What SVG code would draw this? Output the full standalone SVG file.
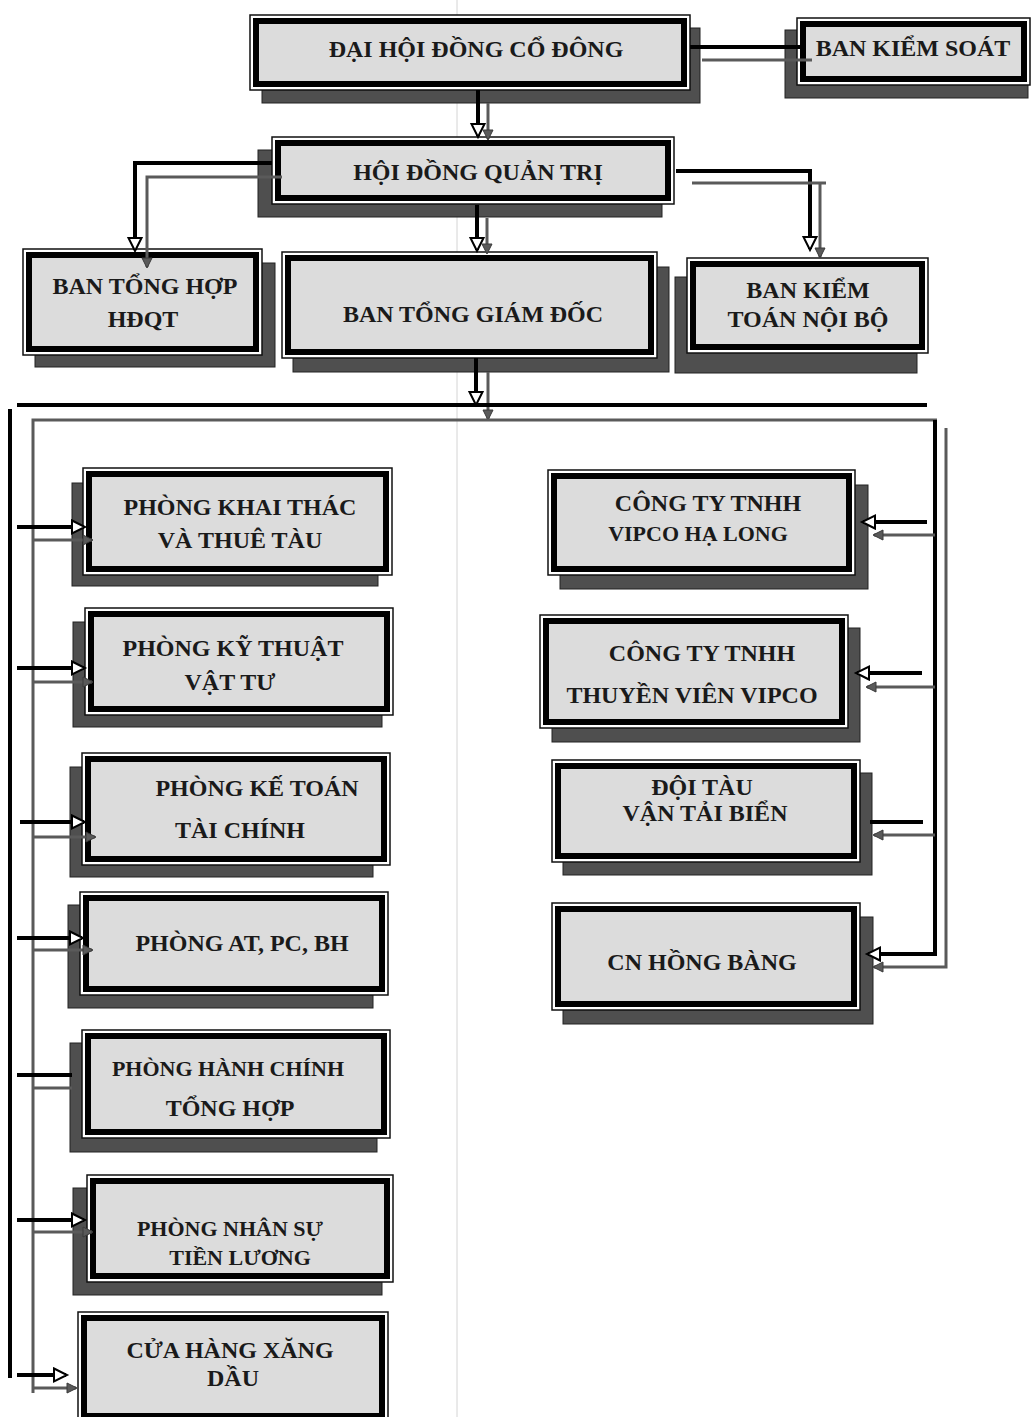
<svg xmlns="http://www.w3.org/2000/svg" width="1033" height="1417" viewBox="0 0 1033 1417">
<style>
.sh{fill:#4f4f4f;stroke:#222;stroke-width:1}
.fo{fill:#fff;stroke:#111;stroke-width:1.5}
.fi{fill:#dcdcdc;stroke:#000;stroke-width:6}
.t{font-family:"Liberation Serif","Times New Roman",serif;font-weight:bold;font-size:24px;fill:#1a1a1a;text-anchor:middle}
.s{font-size:22px}
.bk{fill:none;stroke:#000;stroke-width:4}
.gr{fill:none;stroke:#5a5a5a;stroke-width:3}
</style>
<defs>
<marker id="ab" markerUnits="userSpaceOnUse" markerWidth="18" markerHeight="18" refX="13" refY="8" orient="auto">
<path d="M1,1.5 L14,8 L1,14.5 Z" fill="#fff" stroke="#000" stroke-width="2"/>
</marker>
<marker id="ag" markerUnits="userSpaceOnUse" markerWidth="14" markerHeight="14" refX="10" refY="6" orient="auto">
<path d="M1,1 L11,6 L1,11 Z" fill="#5a5a5a" stroke="#3a3a3a" stroke-width="1"/>
</marker>
</defs>
<rect width="1033" height="1417" fill="#fff"/>
<line x1="457" y1="0" x2="457" y2="1417" stroke="#d4d4d4" stroke-width="1"/>

<g id="dhdcd">
<rect class="sh" x="262" y="28" width="438" height="75"/>
<rect class="fo" x="250" y="15" width="440" height="75"/>
<rect class="fi" x="256" y="21" width="428" height="63"/>
<text class="t" x="476" y="57">ĐẠI HỘI ĐỒNG CỔ ĐÔNG</text>
</g>
<g id="bks">
<rect class="sh" x="785" y="30" width="243" height="68"/>
<rect class="fo" x="797" y="18" width="233" height="67"/>
<rect class="fi" x="803" y="24" width="221" height="55"/>
<text class="t" x="913" y="56">BAN KIỂM SOÁT</text>
</g>
<g id="hdqt">
<rect class="sh" x="258" y="150" width="404" height="67"/>
<rect class="fo" x="272" y="137" width="402" height="67"/>
<rect class="fi" x="278" y="143" width="390" height="55"/>
<text class="t" x="478" y="180">HỘI ĐỒNG QUẢN TRỊ</text>
</g>
<g id="bth">
<rect class="sh" x="35" y="263" width="240" height="104"/>
<rect class="fo" x="23" y="249" width="239" height="106"/>
<rect class="fi" x="29" y="255" width="227" height="94"/>
<text class="t" x="145" y="294">BAN TỔNG HỢP</text>
<text class="t" x="143" y="327">HĐQT</text>
</g>
<g id="btgd">
<rect class="sh" x="293" y="267" width="376" height="105"/>
<rect class="fo" x="282" y="252" width="375" height="106"/>
<rect class="fi" x="288" y="258" width="363" height="94"/>
<text class="t" x="473" y="322">BAN TỔNG GIÁM ĐỐC</text>
</g>
<g id="bktnb">
<rect class="sh" x="675" y="277" width="242" height="96"/>
<rect class="fo" x="687" y="258" width="241" height="95"/>
<rect class="fi" x="693" y="264" width="229" height="83"/>
<text class="t" x="808" y="298">BAN KIỂM</text>
<text class="t" x="808" y="327">TOÁN NỘI BỘ</text>
</g>
<g id="pkt">
<rect class="sh" x="72" y="483" width="306" height="103"/>
<rect class="fo" x="83" y="468" width="309" height="107"/>
<rect class="fi" x="89" y="474" width="297" height="95"/>
<text class="t" x="240" y="515">PHÒNG KHAI THÁC</text>
<text class="t" x="240" y="548">VÀ THUÊ TÀU</text>
</g>
<g id="pktvt">
<rect class="sh" x="73" y="622" width="309" height="105"/>
<rect class="fo" x="85" y="608" width="308" height="107"/>
<rect class="fi" x="91" y="614" width="296" height="95"/>
<text class="t" x="233" y="656">PHÒNG KỸ THUẬT</text>
<text class="t" x="230" y="690">VẬT TƯ</text>
</g>
<g id="pkttc">
<rect class="sh" x="70" y="767" width="303" height="110"/>
<rect class="fo" x="82" y="753" width="308" height="112"/>
<rect class="fi" x="88" y="759" width="296" height="100"/>
<text class="t" x="257" y="796">PHÒNG KẾ TOÁN</text>
<text class="t" x="240" y="838">TÀI CHÍNH</text>
</g>
<g id="pat">
<rect class="sh" x="68" y="905" width="305" height="103"/>
<rect class="fo" x="80" y="892" width="308" height="103"/>
<rect class="fi" x="86" y="898" width="296" height="91"/>
<text class="t" x="242" y="951">PHÒNG AT, PC, BH</text>
</g>
<g id="phc">
<rect class="sh" x="70" y="1043" width="307" height="109"/>
<rect class="fo" x="82" y="1030" width="308" height="108"/>
<rect class="fi" x="88" y="1036" width="296" height="96"/>
<text class="t s" x="228" y="1076">PHÒNG HÀNH CHÍNH</text>
<text class="t" x="230" y="1116">TỔNG HỢP</text>
</g>
<g id="pns">
<rect class="sh" x="73" y="1188" width="309" height="107"/>
<rect class="fo" x="87" y="1175" width="306" height="107"/>
<rect class="fi" x="93" y="1181" width="294" height="95"/>
<text class="t s" x="230" y="1236">PHÒNG NHÂN SỰ</text>
<text class="t s" x="240" y="1265">TIỀN LƯƠNG</text>
</g>
<g id="chxd">
<rect class="fo" x="78" y="1312" width="310" height="110"/>
<rect class="fi" x="84" y="1318" width="298" height="98"/>
<text class="t" x="230" y="1358">CỬA HÀNG XĂNG</text>
<text class="t" x="233" y="1386">DẦU</text>
</g>
<g id="vipcohl">
<rect class="sh" x="560" y="485" width="308" height="104"/>
<rect class="fo" x="548" y="470" width="307" height="105"/>
<rect class="fi" x="554" y="476" width="295" height="93"/>
<text class="t" x="708" y="511">CÔNG TY TNHH</text>
<text class="t s" x="698" y="541">VIPCO HẠ LONG</text>
</g>
<g id="tv">
<rect class="sh" x="552" y="628" width="308" height="114"/>
<rect class="fo" x="540" y="615" width="308" height="113"/>
<rect class="fi" x="546" y="621" width="296" height="101"/>
<text class="t" x="702" y="661">CÔNG TY TNHH</text>
<text class="t" x="692" y="703">THUYỀN VIÊN VIPCO</text>
</g>
<g id="dt">
<rect class="sh" x="563" y="773" width="309" height="102"/>
<rect class="fo" x="552" y="760" width="308" height="102"/>
<rect class="fi" x="558" y="766" width="296" height="90"/>
<text class="t" x="702" y="795">ĐỘI TÀU</text>
<text class="t" x="705" y="821">VẬN TẢI BIỂN</text>
</g>
<g id="cnhb">
<rect class="sh" x="563" y="917" width="310" height="107"/>
<rect class="fo" x="552" y="903" width="308" height="107"/>
<rect class="fi" x="558" y="909" width="296" height="95"/>
<text class="t" x="702" y="970">CN HỒNG BÀNG</text>
</g>

<g id="connectors">
<line class="bk" x1="690" y1="47" x2="800" y2="47"/>
<line class="gr" x1="702" y1="60" x2="812" y2="60"/>
<line class="bk" x1="478" y1="90" x2="478" y2="136" marker-end="url(#ab)"/>
<line class="gr" x1="488" y1="103" x2="488" y2="139" marker-end="url(#ag)"/>
<path class="bk" d="M272,163 H135 V250" marker-end="url(#ab)"/>
<path class="gr" d="M282,177 H147 V267" marker-end="url(#ag)"/>
<line class="bk" x1="477" y1="205" x2="477" y2="250" marker-end="url(#ab)"/>
<line class="gr" x1="487" y1="218" x2="487" y2="253" marker-end="url(#ag)"/>
<path class="bk" d="M676,171 H810 V249" marker-end="url(#ab)"/>
<line class="gr" x1="692" y1="183" x2="826" y2="183"/>
<line class="gr" x1="820" y1="183" x2="820" y2="257" marker-end="url(#ag)"/>
<line class="bk" x1="476" y1="358" x2="476" y2="404" marker-end="url(#ab)"/>
<line class="gr" x1="488" y1="372" x2="488" y2="419" marker-end="url(#ag)"/>
<line class="bk" x1="17" y1="405" x2="927" y2="405"/>
<line class="bk" x1="10" y1="409" x2="10" y2="1378"/>
<path class="gr" d="M33,1393 V420 H937"/>
<path class="bk" d="M935,420 V954 H868" marker-end="url(#ab)"/>
<path class="gr" d="M946,428 V967 H874" marker-end="url(#ag)"/>
<line class="bk" x1="17" y1="527" x2="84" y2="527" marker-end="url(#ab)"/>
<line class="gr" x1="33" y1="540" x2="92" y2="540" marker-end="url(#ag)"/>
<line class="bk" x1="17" y1="668" x2="84" y2="668" marker-end="url(#ab)"/>
<line class="gr" x1="33" y1="682" x2="92" y2="682" marker-end="url(#ag)"/>
<line class="bk" x1="20" y1="822" x2="84" y2="822" marker-end="url(#ab)"/>
<line class="gr" x1="33" y1="837" x2="95" y2="837" marker-end="url(#ag)"/>
<line class="bk" x1="17" y1="938" x2="82" y2="938" marker-end="url(#ab)"/>
<line class="gr" x1="33" y1="950" x2="92" y2="950" marker-end="url(#ag)"/>
<line class="bk" x1="17" y1="1075" x2="72" y2="1075"/>
<line class="gr" x1="33" y1="1088" x2="72" y2="1088"/>
<line class="bk" x1="17" y1="1220" x2="84" y2="1220" marker-end="url(#ab)"/>
<line class="gr" x1="33" y1="1232" x2="92" y2="1232" marker-end="url(#ag)"/>
<line class="bk" x1="17" y1="1375" x2="66" y2="1375" marker-end="url(#ab)"/>
<line class="gr" x1="33" y1="1388" x2="76" y2="1388" marker-end="url(#ag)"/>
<line class="bk" x1="927" y1="522" x2="863" y2="522" marker-end="url(#ab)"/>
<line class="gr" x1="935" y1="535" x2="874" y2="535" marker-end="url(#ag)"/>
<line class="bk" x1="922" y1="673" x2="857" y2="673" marker-end="url(#ab)"/>
<line class="gr" x1="935" y1="687" x2="867" y2="687" marker-end="url(#ag)"/>
<line class="bk" x1="923" y1="822" x2="870" y2="822"/>
<line class="gr" x1="935" y1="835" x2="874" y2="835" marker-end="url(#ag)"/>
</g>
</svg>
